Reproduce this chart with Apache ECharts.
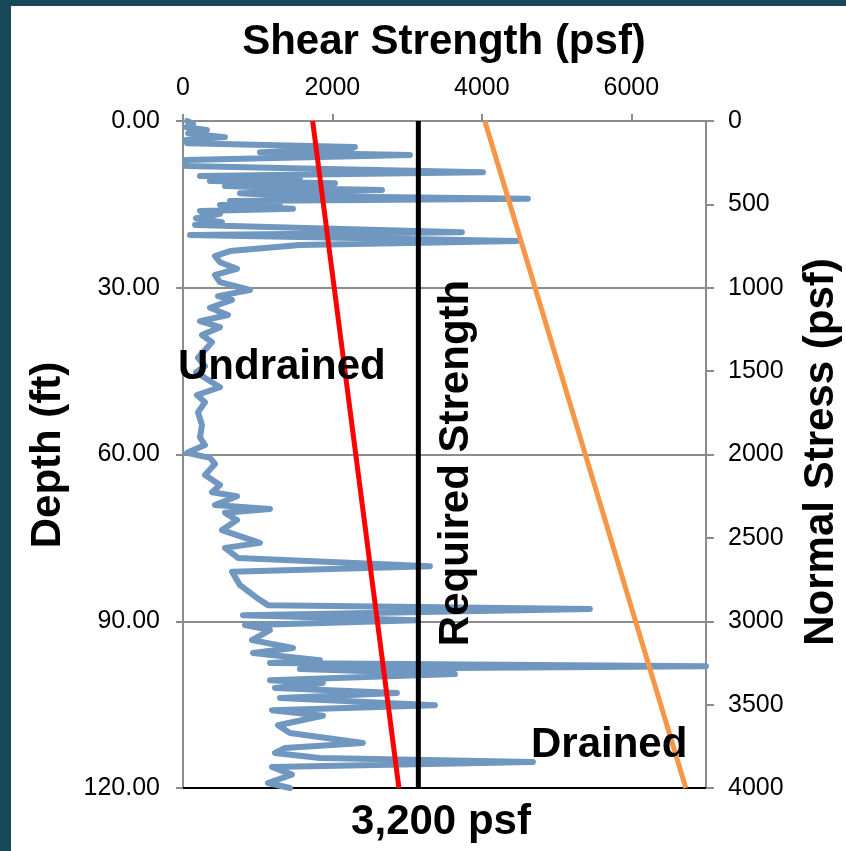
<!DOCTYPE html>
<html>
<head>
<meta charset="utf-8">
<script src="https://cdn.jsdelivr.net/npm/echarts@6/dist/echarts.min.js"></script>
<style>
html,body{margin:0;padding:0;background:#fff;}
#c{width:846px;height:851px;}
</style>
</head>
<body>
<div id="c"></div>
<script>
// Shear strength trace (psf) vs depth (ft)
const traceShear = [54,134,40,321,67,562,40,54,2301,2234,1030,3037,40,40,4014,227,1565,361,2034,562,1432,2663,763,1432,4616,629,1298,495,1472,227,495,174,522,161,3733,94,4469,1565,629,428,495,723,428,495,896,468,656,361,602,227,495,254,388,294,201,294,174,495,187,294,201,254,227,294,54,361,428,294,495,388,723,428,1164,562,723,522,1030,562,736,3305,656,763,990,1137,5446,803,3131,830,1164,923,1472,937,1833,1164,7000,1565,3639,1164,1873,1231,2863,1298,3372,1191,1873,1271,1432,2408,1365,1231,1833,4683,1191,1458,1137,1432];
const traceDepth = [0,0.5,1.1,1.6,2.2,2.9,3.4,4.0,4.7,5.0,5.6,6.1,7.0,8.1,9.2,9.9,10.3,10.8,11.2,11.7,12.1,12.4,13.0,13.5,14.0,14.4,14.8,15.1,15.8,16.2,16.7,17.5,18.2,18.7,20.0,20.5,21.6,22.3,23.4,24.3,25.4,26.6,27.7,29.0,30.4,31.5,32.2,33.6,34.9,36.0,37.1,38.5,39.8,41.2,42.6,44.1,45.2,47.9,49.3,50.6,52.4,54.7,56.9,58.3,59.7,60.6,61.7,63.7,65.5,66.8,67.5,69.1,69.8,70.5,71.8,73.6,75.9,76.8,78.6,80.1,81.1,83.5,85.8,87.1,87.8,88.9,89.8,90.7,91.6,93.4,94.8,95.7,97.0,97.5,98.1,98.6,99.5,100.6,101.1,102.0,102.9,103.8,105.1,106.0,107.0,108.7,110.1,111.9,112.8,113.7,114.6,115.3,116.2,117.6,119.1,120.0];
const lineDepth = [0, 120];
const undrainedShear = [1735, 2890];
const requiredShear = [3150, 3150];
const drainedShear = [4040, 6730];
const shearRange = [0, 7000];
const depthRange = [0, 120];
const stressRange = [0, 4000];

const pairs = (xs, ys) => xs.map((x, i) => [x, ys[i]]);

const chart = echarts.init(document.getElementById('c'), null, {renderer: 'canvas'});
const FONT = '"Liberation Sans", Arial, sans-serif';
const grey = '#8c8c8c';

chart.setOption({
  animation: false,
  backgroundColor: '#fff',
  grid: {left: 183, right: 140, top: 121, bottom: 63},
  xAxis: [
    {
      type: 'value', position: 'top', min: shearRange[0], max: shearRange[1], interval: 2000,
      axisLine: {show: true, onZero: false, lineStyle: {color: grey, width: 2}},
      axisTick: {show: true, length: 7, lineStyle: {color: grey, width: 2}},
      axisLabel: {fontSize: 25, color: '#000', fontFamily: FONT, margin: 20, showMaxLabel: false, formatter: v => String(v)},
      splitLine: {show: false}
    },
    {
      type: 'value', position: 'bottom', min: shearRange[0], max: shearRange[1],
      axisLine: {show: true, onZero: false, lineStyle: {color: '#000', width: 2}},
      axisTick: {show: false}, axisLabel: {show: false}, splitLine: {show: false}
    }
  ],
  yAxis: [
    {
      type: 'value', position: 'left', inverse: true, min: depthRange[0], max: depthRange[1], interval: 30,
      axisLine: {show: true, onZero: false, lineStyle: {color: grey, width: 2}},
      axisTick: {show: true, length: 7, lineStyle: {color: grey, width: 2}},
      axisLabel: {fontSize: 25, color: '#000', fontFamily: FONT, margin: 23, formatter: v => v.toFixed(2)},
      splitLine: {show: true, lineStyle: {color: grey, width: 2}}
    },
    {
      type: 'value', position: 'right', inverse: true, min: stressRange[0], max: stressRange[1], interval: 500,
      axisLine: {show: true, onZero: false, lineStyle: {color: grey, width: 2}},
      axisTick: {show: true, length: 8, lineStyle: {color: grey, width: 2}},
      axisLabel: {fontSize: 25, color: '#000', fontFamily: FONT, margin: 22, formatter: v => String(v)},
      splitLine: {show: false}
    }
  ],
  series: [
    {
      name: 'Trace', type: 'line', xAxisIndex: 0, yAxisIndex: 0, symbol: 'none',
      data: pairs(traceShear, traceDepth),
      lineStyle: {color: '#7097c0', width: 6, cap: 'round', join: 'round'}, z: 2
    },
    {
      name: 'Undrained', type: 'line', xAxisIndex: 0, yAxisIndex: 0, symbol: 'none',
      data: pairs(undrainedShear, lineDepth),
      lineStyle: {color: '#ff0000', width: 5}, z: 3
    },
    {
      name: 'Required', type: 'line', xAxisIndex: 0, yAxisIndex: 0, symbol: 'none',
      data: pairs(requiredShear, lineDepth),
      lineStyle: {color: '#000000', width: 5}, z: 3
    },
    {
      name: 'Drained', type: 'line', xAxisIndex: 0, yAxisIndex: 0, symbol: 'none',
      data: pairs(drainedShear, lineDepth),
      lineStyle: {color: '#f79646', width: 5}, z: 3
    }
  ],
  graphic: [
    {type: 'rect', shape: {x: 0, y: 0, width: 846, height: 6}, style: {fill: '#17495a'}, z: 100},
    {type: 'rect', shape: {x: 0, y: 0, width: 11, height: 851}, style: {fill: '#17495a'}, z: 100},
    {type: 'text', x: 444, y: 42, style: {text: 'Shear Strength (psf)', font: 'bold 42px ' + FONT, fill: '#000', align: 'center', verticalAlign: 'middle'}, z: 100},
    {type: 'text', x: 48, y: 455, rotation: Math.PI / 2, style: {text: 'Depth (ft)', font: 'bold 42px ' + FONT, fill: '#000', align: 'center', verticalAlign: 'middle'}, z: 100},
    {type: 'text', x: 821, y: 452, rotation: Math.PI / 2, style: {text: 'Normal Stress (psf)', font: 'bold 42px ' + FONT, fill: '#000', align: 'center', verticalAlign: 'middle'}, z: 100},
    {type: 'text', x: 456, y: 463, rotation: Math.PI / 2, style: {text: 'Required Strength', font: 'bold 42px ' + FONT, fill: '#000', align: 'center', verticalAlign: 'middle'}, z: 100},
    {type: 'text', x: 178, y: 367, style: {text: 'Undrained', font: 'bold 42px ' + FONT, fill: '#000', align: 'left', verticalAlign: 'middle'}, z: 100},
    {type: 'text', x: 531, y: 745, style: {text: 'Drained', font: 'bold 42px ' + FONT, fill: '#000', align: 'left', verticalAlign: 'middle'}, z: 100},
    {type: 'text', x: 441, y: 822, style: {text: '3,200 psf', font: 'bold 42px ' + FONT, fill: '#000', align: 'center', verticalAlign: 'middle'}, z: 100}
  ]
});
</script>
</body>
</html>
